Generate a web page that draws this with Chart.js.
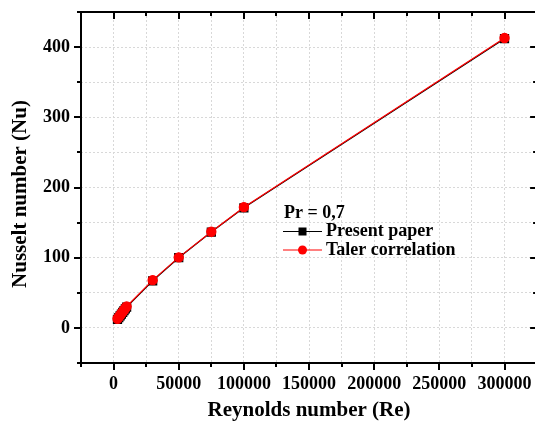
<!DOCTYPE html>
<html>
<head>
<meta charset="utf-8">
<script src="https://cdn.jsdelivr.net/npm/chart.js@4.4.1/dist/chart.umd.min.js"></script>
<style>
  html, body { margin: 0; background: #fff; overflow: hidden; }
  canvas { display: block; }
</style>
</head>
<body>
<canvas id="nuChart" width="544" height="425"></canvas>
<script>
const reynolds = [3000, 4000, 5000, 6000, 7000, 8000, 9000, 10000, 30000, 50000, 75000, 100000, 300000];
const nuPresent = [12, 14.5, 17, 19.5, 22, 24.5, 27, 29.5, 67, 100, 136.5, 171, 412];
const nuTaler = [13, 15.5, 18, 20.5, 23, 25.5, 28, 30.5, 68, 100.5, 137, 172, 413];
const xTickLabels = [0, 50000, 100000, 150000, 200000, 250000, 300000];
const yTickLabels = [0, 100, 200, 300, 400];
const seriesNames = ['Present paper', 'Taler correlation'];
const legendTitle = 'Pr = 0,7';
const yTitle = 'Nusselt number (Nu)';

const FONT = "'Liberation Serif', 'Times New Roman', serif";

function points(ys) {
  return reynolds.map((re, i) => ({ x: re, y: ys[i] }));
}

// frame + tick marks (outward on bottom/left, inward on top/right)
const framePlugin = {
  id: 'frame',
  afterDraw(chart) {
    const { ctx, chartArea: a, scales: { x, y } } = chart;
    ctx.save();
    ctx.strokeStyle = '#000';
    ctx.lineWidth = 2;
    ctx.strokeRect(a.left, a.top, a.right - a.left, a.bottom - a.top);

    ctx.beginPath();
    for (let v = x.min; v <= x.max; v += 25000) {
      const px = Math.round(x.getPixelForValue(v));
      const len = v % 50000 === 0 ? 7 : 4;
      ctx.moveTo(px, a.bottom); ctx.lineTo(px, a.bottom + len);
      ctx.moveTo(px, a.top); ctx.lineTo(px, a.top + len);
    }
    for (let v = y.min; v <= y.max; v += 50) {
      const py = Math.round(y.getPixelForValue(v));
      const len = v % 100 === 0 ? 7 : 4;
      ctx.moveTo(a.left, py); ctx.lineTo(a.left - len, py);
      ctx.moveTo(a.right, py); ctx.lineTo(a.right - len, py);
    }
    ctx.stroke();

    // y title, sits a bit below the middle of the axis in the original
    ctx.translate(21, 194);
    ctx.rotate(-Math.PI / 2);
    ctx.font = 'bold 21px ' + FONT;
    ctx.textAlign = 'center';
    ctx.textBaseline = 'middle';
    ctx.fillStyle = '#000';
    ctx.fillText(yTitle, 0, 0);
    ctx.restore();
  }
};

// legend box drawn inside the plot like the original
const legendPlugin = {
  id: 'innerLegend',
  afterDraw(chart) {
    const ctx = chart.ctx;
    const lx = 283, ty = 213, row = 18.5;
    ctx.save();
    ctx.font = 'bold 18px ' + FONT;
    ctx.textBaseline = 'middle';
    ctx.fillStyle = '#000';
    ctx.fillText(legendTitle, lx + 1, ty);

    chart.data.datasets.forEach((ds, i) => {
      const yy = ty + row * (i + 1);
      ctx.strokeStyle = ds.borderColor;
      ctx.lineWidth = 1;
      ctx.beginPath();
      ctx.moveTo(lx, yy); ctx.lineTo(lx + 39, yy);
      ctx.stroke();
      ctx.fillStyle = ds.pointBackgroundColor;
      if (ds.pointStyle === 'rect') {
        ctx.fillRect(lx + 15.5, yy - 4, 8, 8);
      } else {
        ctx.beginPath();
        ctx.arc(lx + 19.5, yy, 4.5, 0, Math.PI * 2);
        ctx.fill();
      }
      ctx.fillStyle = '#000';
      ctx.fillText(ds.label, lx + 43, yy);
    });
    ctx.restore();
  }
};

new Chart(document.getElementById('nuChart'), {
  type: 'line',
  data: {
    datasets: [
      {
        label: seriesNames[0],
        data: points(nuPresent),
        borderColor: '#000',
        backgroundColor: '#000',
        pointBackgroundColor: '#000',
        pointBorderColor: '#000',
        pointStyle: 'rect',
        pointRadius: 5.7,
        borderWidth: 1.2,
        order: 2
      },
      {
        label: seriesNames[1],
        data: points(nuTaler),
        borderColor: '#ff0000',
        backgroundColor: '#ff0000',
        pointBackgroundColor: '#ff0000',
        pointBorderColor: '#ff0000',
        pointStyle: 'circle',
        pointRadius: 4.6,
        borderWidth: 1.2,
        order: 1
      }
    ]
  },
  options: {
    responsive: false,
    animation: false,
    devicePixelRatio: 1,
    layout: { padding: { top: 12, right: 0, bottom: 0, left: 0 } },
    plugins: {
      legend: { display: false },
      tooltip: { enabled: false }
    },
    scales: {
      x: {
        type: 'linear',
        min: -25000,
        max: 325000,
        afterFit(scale) {
          scale.height = 62;
          scale.paddingLeft = 0;
          scale.paddingRight = 0;
        },
        ticks: {
          stepSize: 25000,
          autoSkip: false,
          maxRotation: 0,
          padding: 0,
          color: '#000',
          font: { family: FONT, size: 18, weight: 'bold' },
          callback: v => xTickLabels.includes(v) ? String(v) : ''
        },
        grid: { color: '#d8d8d8', lineWidth: 1, drawTicks: true, tickLength: 11, tickColor: 'rgba(0,0,0,0)' },
        border: { display: false, dash: [2, 2] },
        title: {
          display: true,
          text: 'Reynolds number (Re)',
          color: '#000',
          font: { family: FONT, size: 21, weight: 'bold' },
          padding: { top: 0, bottom: 1.5 }
        }
      },
      y: {
        min: -50,
        max: 450,
        afterFit(scale) {
          scale.width = 81;
          scale.paddingTop = 0;
          scale.paddingBottom = 0;
        },
        ticks: {
          stepSize: 50,
          autoSkip: false,
          padding: 0,
          color: '#000',
          font: { family: FONT, size: 18, weight: 'bold' },
          callback: v => yTickLabels.includes(v) ? String(v) : ''
        },
        grid: { color: '#d8d8d8', lineWidth: 1, drawTicks: true, tickLength: 11, tickColor: 'rgba(0,0,0,0)' },
        border: { display: false, dash: [2, 2] },
        title: { display: false }
      }
    }
  },
  plugins: [framePlugin, legendPlugin]
});
</script>
</body>
</html>
